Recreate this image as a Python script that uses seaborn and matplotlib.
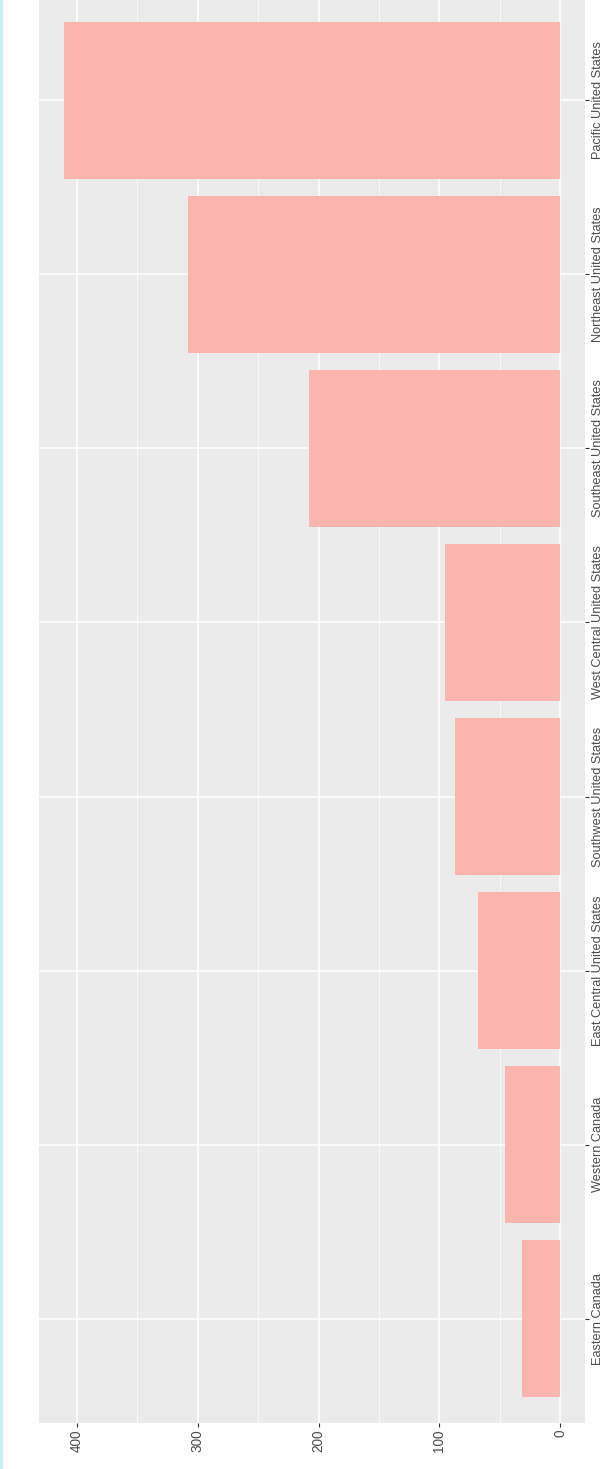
import matplotlib
matplotlib.use("Agg")
import matplotlib.pyplot as plt
import pandas as pd
import seaborn as sns

regions = [
    "Pacific United States",
    "Northeast United States",
    "Southeast United States",
    "West Central United States",
    "Southwest United States",
    "East Central United States",
    "Western Canada",
    "Eastern Canada",
]
counts = [411, 308, 208, 95, 87, 68, 46, 32]

bar_color = "#FBB4AE"
panel_bg = "#EBEBEB"
text_color = "#4D4D4D"

df = pd.DataFrame({"region": regions, "count": counts})

sns.set_theme(style="darkgrid")
plt.rcParams["font.family"] = ["Liberation Sans", "DejaVu Sans"]

fig = plt.figure(figsize=(6.05, 14.69), dpi=100)
# panel runs slightly past the top edge of the image, like the original
ax = fig.add_axes([39 / 605, 46 / 1469, (585 - 39) / 605, 1427 / 1469])
ax.set_facecolor(panel_bg)

sns.barplot(data=df, x="count", y="region", orient="h", order=regions,
            color=bar_color, saturation=1, width=0.9, linewidth=0, ax=ax)

vmax = max(counts)
ax.set_xlim(vmax * 1.05, -vmax * 0.05)
ax.set_ylim(len(regions) - 0.4, -0.6)

ax.set_xticks([400, 300, 200, 100, 0])
ax.set_xticks([350, 250, 150, 50], minor=True)
ax.grid(which="major", color="white", linewidth=1.1)
ax.grid(which="minor", axis="x", color="white", linewidth=0.5)
ax.set_axisbelow(True)
for s in ax.spines.values():
    s.set_visible(False)

ax.yaxis.tick_right()
ax.tick_params(axis="both", which="major", length=2.75, width=0.8, color="#333333",
               labelcolor=text_color, labelsize=9.8, pad=2)
ax.tick_params(axis="y", pad=2.5, labelsize=9.2)
ax.tick_params(axis="x", which="minor", length=0)
ax.tick_params(axis="x", bottom=True, labelrotation=90)
ax.tick_params(axis="y", right=True, left=False, labelrotation=90)
for lbl in ax.get_yticklabels():
    lbl.set_va("center")
    lbl.set_ha("left")
ax.set_xlabel("")
ax.set_ylabel("")

# thin light-blue edge on the far left
fig.patches.append(plt.Rectangle((0, 0), 2 / 605, 1, transform=fig.transFigure,
                                 color="#CCEBFF", zorder=0))

fig.savefig("out.png", dpi=100, facecolor="white")
